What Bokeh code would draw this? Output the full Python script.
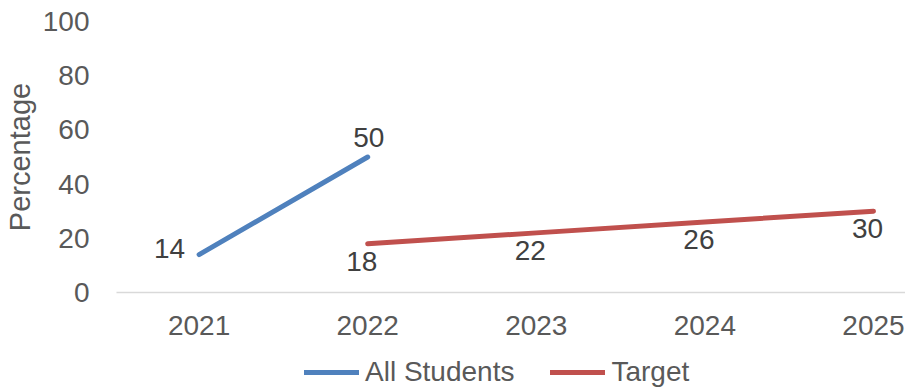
from bokeh.plotting import figure
from bokeh.layouts import column
from bokeh.models import Range1d, FixedTicker, Legend, LegendItem, ColumnDataSource
from bokeh.core.properties import value
from bokeh.embed import file_html
from bokeh.resources import INLINE

# ---- data ----
years = [2021, 2022, 2023, 2024, 2025]
student_years = [2021, 2022]
all_students = [14, 50]
target_years = [2022, 2023, 2024, 2025]
target = [18, 22, 26, 30]
y_ticks = [0, 20, 40, 60, 80, 100]
series_names = ["All Students", "Target"]

FONT = "Liberation Sans"
FS = "28px"
BLUE = "#4F81BD"
RED = "#C0504D"
LEFT = 112

p = figure(width=905, height=342, output_backend="svg", toolbar_location=None,
           x_range=Range1d(2020.51, 2025.19), y_range=Range1d(0, 100),
           min_border_left=LEFT, min_border_right=0, min_border_top=21,
           min_border_bottom=50)
p.outline_line_color = None
p.background_fill_color = "white"
p.border_fill_color = "white"
p.xgrid.visible = False
p.ygrid.visible = False

# axes
p.xaxis.ticker = FixedTicker(ticks=years)
p.xaxis.axis_line_color = "#D9D9D9"
p.xaxis.axis_line_width = 1.5
p.xaxis.major_tick_line_color = None
p.xaxis.minor_tick_line_color = None
p.xaxis.major_label_text_font = FONT
p.xaxis.major_label_text_font_size = FS
p.xaxis.major_label_text_color = "#595959"
p.xaxis.major_label_standoff = 17

p.yaxis.ticker = FixedTicker(ticks=y_ticks)
p.yaxis.axis_line_color = None
p.yaxis.major_tick_line_color = None
p.yaxis.minor_tick_line_color = None
p.yaxis.major_tick_out = 0
p.yaxis.major_label_text_font = FONT
p.yaxis.major_label_text_font_size = FS
p.yaxis.major_label_text_color = "#595959"
p.yaxis.major_label_standoff = 27
p.yaxis.axis_label = "Percentage"
p.yaxis.axis_label_text_font = FONT
p.yaxis.axis_label_text_font_size = "29px"
p.yaxis.axis_label_text_font_style = "normal"
p.yaxis.axis_label_text_color = "#595959"
p.yaxis.axis_label_standoff = 4

s_src = ColumnDataSource(dict(x=student_years, y=all_students,
                              t=[str(v) for v in all_students]))
t_src = ColumnDataSource(dict(x=target_years, y=target,
                              t=[str(v) for v in target]))

p.line("x", "y", source=s_src, line_color=BLUE, line_width=5, line_cap="round")
p.line("x", "y", source=t_src, line_color=RED, line_width=5, line_cap="round")

# data labels: All Students (first left, second above); Target below
s_left = ColumnDataSource(dict(x=student_years[:1], y=all_students[:1],
                               t=[str(v) for v in all_students[:1]]))
s_above = ColumnDataSource(dict(x=student_years[1:], y=all_students[1:],
                                t=[str(v) for v in all_students[1:]]))
p.text("x", "y", text="t", source=s_left, text_font=value(FONT), text_font_size=FS,
       text_color="#404040", text_align="right", text_baseline="middle",
       x_offset=-14, y_offset=-6)
p.text("x", "y", text="t", source=s_above, text_font=value(FONT), text_font_size=FS,
       text_color="#404040", text_align="center", text_baseline="bottom",
       x_offset=1, y_offset=-10)
p.text("x", "y", text="t", source=t_src, text_font=value(FONT), text_font_size=FS,
       text_color="#404040", text_align="center", text_baseline="top",
       x_offset=-6, y_offset=8)

# ---- legend strip below the chart (proxy lines sit outside its view) ----
lg = figure(width=905, height=46, output_backend="svg", toolbar_location=None,
            x_axis_type=None, y_axis_type=None,
            x_range=Range1d(0, 1), y_range=Range1d(0, 1),
            min_border=0, min_border_left=LEFT, min_border_right=0,
            min_border_top=0, min_border_bottom=0)
lg.outline_line_color = None
lg.xgrid.visible = False
lg.ygrid.visible = False
lr1 = lg.line("x", "y", source=s_src, line_color=BLUE, line_width=5, line_cap="round")
lr2 = lg.line("x", "y", source=t_src, line_color=RED, line_width=5, line_cap="round")

legend = Legend(items=[LegendItem(label=series_names[0], renderers=[lr1]),
                       LegendItem(label=series_names[1], renderers=[lr2])],
                orientation="horizontal", location=(188, 0),
                label_text_font=FONT, label_text_font_size=FS,
                label_text_color="#595959", glyph_width=55, glyph_height=20,
                label_standoff=6, spacing=36, padding=0, margin=0,
                border_line_color=None, background_fill_alpha=0)
lg.add_layout(legend, "center")

layout = column(p, lg, spacing=0)
open("out.html", "w").write(file_html(layout, INLINE))
